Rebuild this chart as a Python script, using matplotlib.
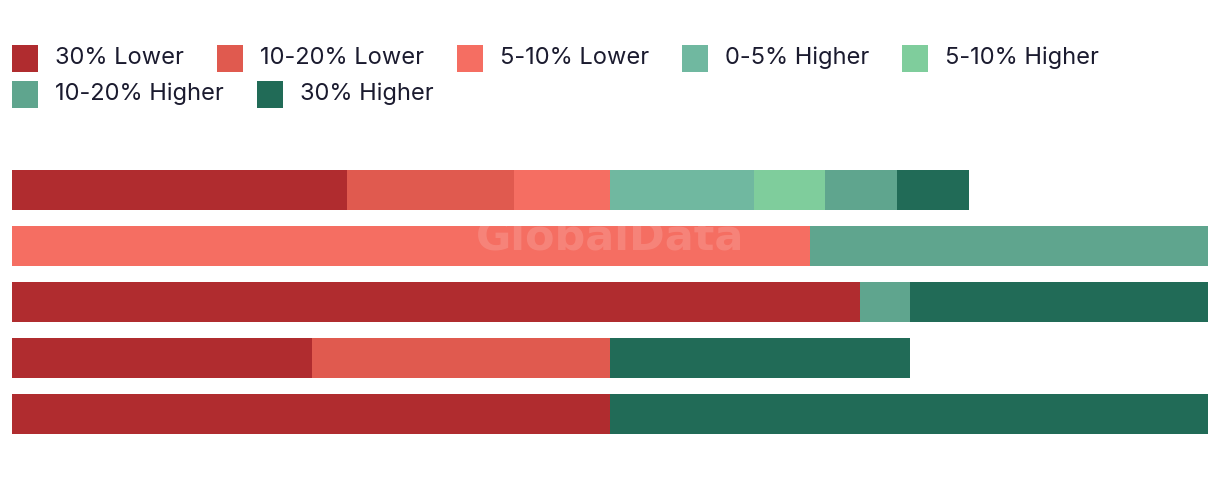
import matplotlib
matplotlib.use("Agg")
import matplotlib.pyplot as plt
from matplotlib.patches import Rectangle
import numpy as np

plt.rcParams['font.family'] = ['Inter', 'DejaVu Sans']

rows = ["Row 1", "Row 2", "Row 3", "Row 4", "Row 5"]
series = ["30% Lower", "10-20% Lower", "5-10% Lower", "0-5% Higher",
          "5-10% Higher", "10-20% Higher", "30% Higher"]
colors = ["#B02C2F", "#E05A4F", "#F56E62", "#70B8A0", "#7FCD9C", "#5FA58E", "#216B57"]

lower30 = [28, 0, 70.9, 25.1, 50]
lower10_20 = [14, 0, 0, 24.9, 0]
lower5_10 = [8, 66.7, 0, 0, 0]
higher0_5 = [12, 0, 0, 0, 0]
higher5_10 = [6, 0, 0, 0, 0]
higher10_20 = [6, 33.3, 4.2, 0, 0]
higher30 = [6, 0, 24.9, 25.1, 50]
values = [lower30, lower10_20, lower5_10, higher0_5, higher5_10, higher10_20, higher30]

W, H = 1220, 478
fig = plt.figure(figsize=(W / 100, H / 100), dpi=100)
ax = fig.add_axes([12 / W, (H - 442) / H, 1196 / W, 280 / H])

y = np.arange(len(rows))
left = np.zeros(len(rows))
for vals, col, name in zip(values, colors, series):
    v = np.array(vals, dtype=float)
    ax.barh(y, v, left=left, height=40 / 56, color=col, label=name, linewidth=0)
    left += v
ax.set_xlim(0, 100)
ax.set_ylim(len(rows) - 0.5, -0.5)
ax.axis("off")

# watermark
ax.text(50, 0.85, "GlobalData", ha="center", va="center", fontsize=31,
        fontweight="bold", color="white", alpha=0.15,
        family=["Liberation Sans Narrow", "DejaVu Sans"])

# flow-layout legend
fig.canvas.draw()
renderer = fig.canvas.get_renderer()
x = 12
row_y = [58, 94]
ri = 0
maxx = 1140
for name, col in zip(series, colors):
    t = fig.text(0, 0, name, fontsize=17, color="#1B1B2F", va="center", ha="left")
    tw = t.get_window_extent(renderer).width
    total = 43 + tw
    if x + total > maxx:
        ri += 1
        x = 12
    yc = H - row_y[ri]
    fig.patches.append(Rectangle((x / W, (yc - 13.5) / H), 26 / W, 27 / H,
                                 transform=fig.transFigure, facecolor=col, edgecolor="none"))
    t.set_position(((x + 43) / W, yc / H))
    x += total + 33

fig.savefig("out.png", dpi=100)
